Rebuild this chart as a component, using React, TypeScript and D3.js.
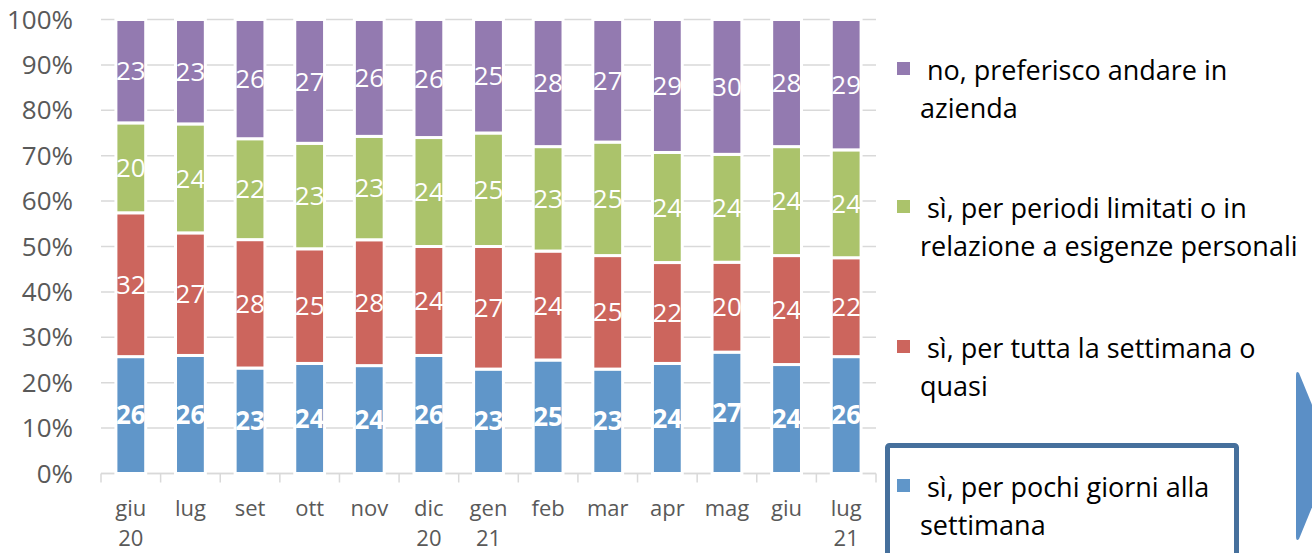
import React from 'react';
import * as d3 from 'd3';

// categorie (mese / anno)
const monthLabels = ['giu', 'lug', 'set', 'ott', 'nov', 'dic', 'gen', 'feb', 'mar', 'apr', 'mag', 'giu', 'lug'];
const yearLabels = ['20', '', '', '', '', '20', '21', '', '', '', '', '', '21'];

// serie (valori %)
const pochiGiorni = [26, 26, 23, 24, 24, 26, 23, 25, 23, 24, 27, 24, 26];
const tuttaSettimana = [32, 27, 28, 25, 28, 24, 27, 24, 25, 22, 20, 24, 22];
const periodiLimitati = [20, 24, 22, 23, 23, 24, 25, 23, 25, 24, 24, 24, 24];
const noAzienda = [23, 23, 26, 27, 26, 26, 25, 28, 27, 29, 30, 28, 29];

const seriesKeys = ['pochi', 'tutta', 'periodi', 'no'];
const seriesColors = ['#6096c9', '#cc655d', '#abc36b', '#937ab0'];
const legendText = [
  ['sì, per pochi giorni alla', 'settimana'],
  ['sì, per tutta la settimana o', 'quasi'],
  ['sì, per periodi limitati o in', 'relazione a esigenze personali'],
  ['no, preferisco andare in', 'azienda'],
];
const yTicks = [0, 0.1, 0.2, 0.3, 0.4, 0.5, 0.6, 0.7, 0.8, 0.9, 1];

const W = 1312;
const H = 553;
const font = '"Open Sans", sans-serif';

export default function App() {
  const rows = monthLabels.map((m, i) => ({
    idx: String(i),
    pochi: pochiGiorni[i],
    tutta: tuttaSettimana[i],
    periodi: periodiLimitati[i],
    no: noAzienda[i],
  }));

  const stacked = d3.stack<any>().keys(seriesKeys).offset(d3.stackOffsetExpand)(rows);

  const x = d3
    .scaleBand()
    .domain(rows.map(r => r.idx))
    .range([101, 876])
    .paddingInner(0.5)
    .paddingOuter(0.25);
  const y = d3.scaleLinear().domain([0, 1]).range([473.5, 19.5]);
  const step = x.step();
  const bw = x.bandwidth();

  const raw = [pochiGiorni, tuttaSettimana, periodiLimitati, noAzienda];
  // legenda dall'alto: no, periodi, tutta, pochi
  const legendOrder = [3, 2, 1, 0];
  const legendBase = [80, 218, 358, 497];

  return (
    <div style={{ position: 'absolute', left: 0, top: 0 }}>
      <svg width={W} height={H} style={{ display: 'block', background: '#fff' }}>
        {/* griglia */}
        {yTicks.map(t => (
          <line key={t} x1={101} x2={876} y1={y(t)} y2={y(t)} stroke="#d9d9d9" strokeWidth={1.5} />
        ))}
        {yTicks.map(t => (
          <text key={'l' + t} x={73} y={y(t)} dy="0.35em" textAnchor="end"
            fontFamily={font} fontSize={26} fill="#595959">
            {Math.round(t * 100) + '%'}
          </text>
        ))}

        {/* asse x */}
        <line x1={101} x2={876} y1={y(0)} y2={y(0)} stroke="#d9d9d9" strokeWidth={1.5} />
        {d3.range(monthLabels.length + 1).map(k => (
          <line key={'t' + k} x1={101 + k * step} x2={101 + k * step} y1={y(0)} y2={y(0) + 9}
            stroke="#d9d9d9" strokeWidth={1.5} />
        ))}
        {rows.map((r, i) => (
          <g key={'c' + i} fontFamily={font} fontSize={22} fill="#595959" textAnchor="middle">
            <text x={x(r.idx)! + bw / 2} y={516}>{monthLabels[i]}</text>
            {yearLabels[i] && <text x={x(r.idx)! + bw / 2} y={546}>{yearLabels[i]}</text>}
          </g>
        ))}

        {/* barre */}
        {stacked.map((s, si) => (
          <g key={s.key} fill={seriesColors[si]}>
            {s.map((d, i) => (
              <rect key={i} x={x(d.data.idx)} width={bw} y={y(d[1])} height={y(d[0]) - y(d[1])}
                stroke="#fff" strokeWidth={3} />
            ))}
          </g>
        ))}
        {stacked.map((s, si) => (
          <g key={'v' + s.key} fontFamily={font} fontSize={26} fill="#fff" textAnchor="middle"
            fontWeight={si === 0 ? 'bold' : 'normal'}>
            {s.map((d, i) => (
              <text key={i} x={x(d.data.idx)! + bw / 2} y={(y(d[0]) + y(d[1])) / 2} dy="0.35em">
                {raw[si][i]}
              </text>
            ))}
          </g>
        ))}

        {/* legenda */}
        {legendOrder.map((si, k) => (
          <g key={'lg' + si} fontFamily={font} fontSize={27} fill="#000">
            <rect x={897} y={legendBase[k] - 18} width={13} height={13} fill={seriesColors[si]} />
            <text x={927} y={legendBase[k]}>{legendText[si][0]}</text>
            <text x={920} y={legendBase[k] + 38}>{legendText[si][1]}</text>
          </g>
        ))}
        <rect x={887.5} y={445.5} width={349} height={130} rx={2} fill="none" stroke="#46709c" strokeWidth={5} />

        {/* freccia a destra */}
        <path d="M1296,376 Q1296,370 1299,373 L1333,456 L1299,539 Q1296,542 1296,536 Z" fill="#5b8fc6" />
      </svg>
    </div>
  );
}
